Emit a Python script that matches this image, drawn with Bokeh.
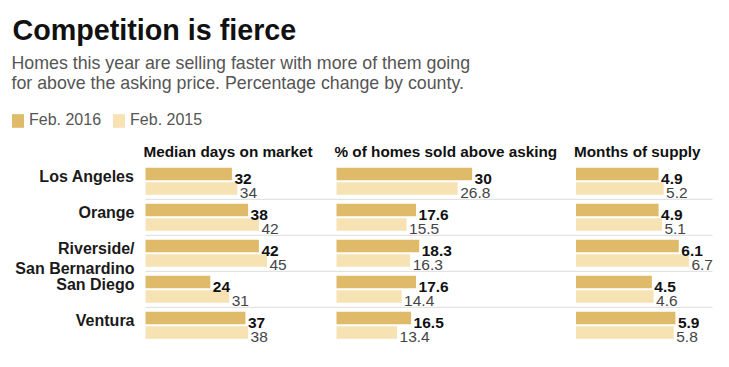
from bokeh.plotting import figure
from bokeh.models import Range1d, ColumnDataSource, Label, Legend, LegendItem
from bokeh.transform import dodge
from bokeh.core.properties import value
from bokeh.embed import file_html
from bokeh.resources import INLINE

# ---- data ----
counties = ["Los Angeles", "Orange", "Riverside/\nSan Bernardino", "San Diego", "Ventura"]
days_2016 = [32, 38, 42, 24, 37]
days_2015 = [34, 42, 45, 31, 38]
above_2016 = [30, 17.6, 18.3, 17.6, 16.5]
above_2015 = [26.8, 15.5, 16.3, 14.4, 13.4]
supply_2016 = [4.9, 4.9, 6.1, 4.5, 5.9]
supply_2015 = [5.2, 5.1, 6.7, 4.6, 5.8]
headers = ["Median days on market", "% of homes sold above asking", "Months of supply"]
series_labels = ["Feb. 2016", "Feb. 2015"]
title = "Competition is fierce"
subtitle = ["Homes this year are selling faster with more of them going",
            "for above the asking price. Percentage change by county."]

# ---- style ----
W, H = 729, 367
C16, C15 = "#dfba69", "#f6e2b3"
FONT_NAME = "Liberation Sans"
FONT = value(FONT_NAME)
ROW_PX = 36.0
ROW0_PX = 180.8          # px from top of figure to first row centre
cols = [  # (range name, px start, px per unit)
    ("default", 145.0, 2.70),
    ("pct", 336.0, 4.52),
    ("mos", 575.5, 16.85),
]

def rng(start_px, scale):
    return Range1d(-start_px / scale, (W - start_px) / scale)

p = figure(width=W, height=H, output_backend="svg", toolbar_location=None,
           x_range=rng(cols[0][1], cols[0][2]),
           y_range=Range1d(-ROW0_PX / ROW_PX + H / ROW_PX, -ROW0_PX / ROW_PX),
           x_axis_location=None, y_axis_location=None, min_border=0)
p.outline_line_color = None
p.grid.visible = False
p.extra_x_ranges = {"pct": rng(cols[1][1], cols[1][2]), "mos": rng(cols[2][1], cols[2][2])}

rows = list(range(len(counties)))
src = ColumnDataSource(dict(
    row=rows, county=counties,
    d16=days_2016, d15=days_2015,
    a16=above_2016, a15=above_2015,
    s16=supply_2016, s15=supply_2015,
    d16t=[f"{v:g}" for v in days_2016], d15t=[f"{v:g}" for v in days_2015],
    a16t=[f"{v:g}" for v in above_2016], a15t=[f"{v:g}" for v in above_2015],
    s16t=[f"{v:g}" for v in supply_2016], s15t=[f"{v:g}" for v in supply_2015],
))

# separators
sep_src = ColumnDataSource(dict(row=rows[:-1]))
sep_right = (712 - cols[0][1]) / cols[0][2]
p.segment(x0=0, x1=sep_right, y0=dodge("row", 0.5, range=p.y_range),
          y1=dodge("row", 0.5, range=p.y_range), source=sep_src,
          line_color="#dcdcdc", line_width=1)

BAR_H = 0.347
r16_first = None
r15_first = None
for (name, _, _), (k16, k15) in zip(cols, [("d16", "d15"), ("a16", "a15"), ("s16", "s15")]):
    r16 = p.hbar(y=dodge("row", -0.2, range=p.y_range), left=0, right=k16, height=BAR_H,
                 source=src, fill_color=C16, line_color=None, x_range_name=name)
    r15 = p.hbar(y=dodge("row", 0.2, range=p.y_range), left=0, right=k15, height=BAR_H,
                 source=src, fill_color=C15, line_color=None, x_range_name=name)
    if r16_first is None:
        r16_first, r15_first = r16, r15
    p.text(x=k16, y=dodge("row", -0.2 + 0.13, range=p.y_range), text=k16 + "t", source=src,
           x_offset=2.5, text_baseline="alphabetic", text_font=FONT, text_font_style="bold",
           text_font_size="15.5px", text_color="#111111", x_range_name=name)
    p.text(x=k15, y=dodge("row", 0.2 + 0.13, range=p.y_range), text=k15 + "t", source=src,
           x_offset=2.5, text_baseline="alphabetic", text_font=FONT,
           text_font_size="15.5px", text_color="#444444", x_range_name=name)

# county labels
p.text(x=0, y=dodge("row", -0.37, range=p.y_range), text="county", source=src,
       x_offset=-11, text_align="right", text_baseline="top", text_font=FONT,
       text_font_style="bold", text_font_size="16px", text_color="#1a1a1a",
       text_line_height=1.2)

# column headers
for (name, _, _), htxt in zip(cols, headers):
    p.add_layout(Label(x=0, y=H - 151, x_units="data", y_units="screen", x_range_name=name,
                       x_offset=-2, text=htxt, text_font=FONT_NAME, text_font_style="bold",
                       text_font_size="15.3px", text_color="#111111",
                       text_baseline="alphabetic"))

# title and subtitle
p.add_layout(Label(x=12, y=H - 29.5, x_units="screen", y_units="screen", text=title,
                   text_font=FONT_NAME, text_font_style="bold", text_font_size="28.7px",
                   text_color="#111111", text_baseline="alphabetic"))
for i, line in enumerate(subtitle):
    p.add_layout(Label(x=11, y=H - 62 - 20 * i, x_units="screen", y_units="screen", text=line,
                       text_font=FONT_NAME, text_font_size="17.8px", text_color="#555555",
                       text_baseline="alphabetic"))

# legend (area glyphs are drawn inset by 10%, so the glyph box is ~15 x 17)
legend = Legend(items=[LegendItem(label=series_labels[0], renderers=[r16_first]),
                       LegendItem(label=series_labels[1], renderers=[r15_first])],
                orientation="horizontal", location=(10, 238),
                glyph_width=15, glyph_height=17, label_standoff=4, spacing=10,
                padding=0, margin=0, border_line_color=None, background_fill_alpha=0,
                label_text_font=FONT_NAME, label_text_font_size="16px",
                label_text_color="#555555", label_height=17)
p.add_layout(legend, "center")

open("out.html", "w").write(file_html(p, INLINE))
